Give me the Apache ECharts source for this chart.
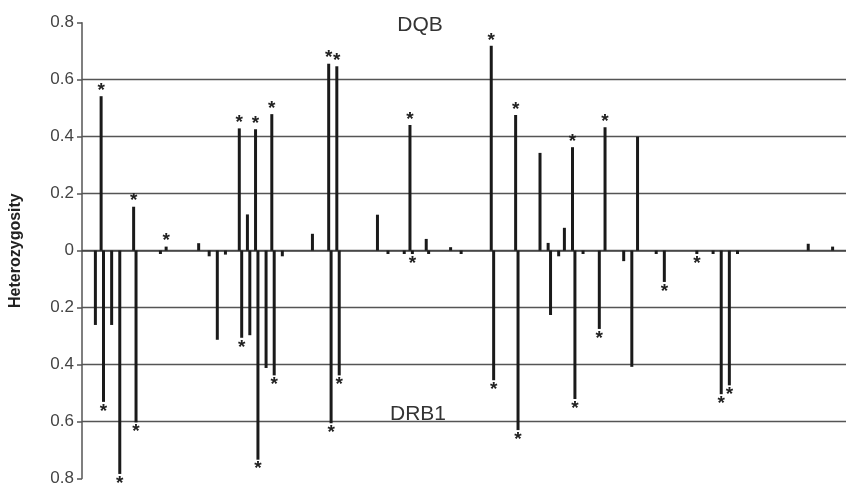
<!DOCTYPE html>
<html>
<head>
<meta charset="utf-8">
<script src="https://cdn.jsdelivr.net/npm/echarts@6/dist/echarts.min.js"></script>
<style>
html,body{margin:0;padding:0;background:#fff;}
#chart{width:846px;height:487px;}
</style>
</head>
<body>
<div id="chart"></div>
<script>
// 94 marker positions (unlabelled categories)
var categories = [];
for (var i = 1; i <= 94; i++) categories.push('M' + i);

// DQB heterozygosity (drawn upward), null = no bar
var dqb = [
  null, null, 0.542, null, null, null, 0.154, null, null, null,
  0.014, null, null, null, 0.026, null, null, null, null, 0.429,
  0.127, 0.426, null, 0.479, null, null, null, null, 0.059, null,
  0.656, 0.647, null, null, null, null, 0.126, null, null, null,
  0.441, null, 0.041, null, null, 0.012, null, null, null, null,
  0.719, null, null, 0.476, null, null, 0.343, 0.027, null, 0.080,
  0.363, null, null, null, 0.433, null, null, null, 0.400, null,
  null, null, null, null, null, null, null, null, null, null,
  null, null, null, null, null, null, null, null, null, 0.024,
  null, null, 0.014, null
];

// DRB1 heterozygosity (drawn downward), null = no bar
var drb1 = [
  null, 0.261, 0.531, 0.261, 0.784, null, 0.603, null, null, 0.012,
  null, null, null, null, null, 0.020, 0.313, 0.014, null, 0.306,
  0.297, 0.734, 0.412, 0.438, 0.020, null, null, null, null, null,
  0.606, 0.438, null, null, null, null, null, 0.012, null, 0.012,
  0.012, null, 0.012, null, null, null, 0.012, null, null, null,
  0.455, null, null, 0.630, null, null, null, 0.226, 0.020, null,
  0.521, 0.012, null, 0.275, null, null, 0.037, 0.408, null, null,
  0.012, 0.110, null, null, null, 0.012, null, 0.012, 0.504, 0.473,
  0.012, null, null, null, null, null, null, null, null, null,
  null, null, null, null
];

// indices of markers flagged with an asterisk
var dqbSig = [2, 6, 10, 19, 21, 23, 30, 31, 40, 50, 53, 60, 64];
var drb1Sig = [2, 4, 6, 19, 21, 23, 30, 31, 40, 50, 53, 60, 63, 71, 75, 78, 79];

var yTicks = [-0.8, -0.6, -0.4, -0.2, 0, 0.2, 0.4, 0.6, 0.8];

var starLabel = {
  show: true,
  formatter: '*',
  fontFamily: 'Liberation Sans, Arial, sans-serif',
  fontSize: 19,
  fontWeight: 'bold',
  color: '#222'
};

function buildData(values, sig, sign, pos, dist) {
  return values.map(function (v, i) {
    if (v === null) return null;
    var item = { value: sign * v };
    if (sig.indexOf(i) >= 0) {
      item.label = Object.assign({}, starLabel, { position: pos, distance: dist });
    }
    return item;
  });
}

var chart = echarts.init(document.getElementById('chart'));
chart.setOption({
  animation: false,
  backgroundColor: '#fff',
  grid: { left: 80, top: 22.7, width: 769, height: 458 },
  title: [
    { text: 'DQB', left: 415, top: 10, textAlign: 'center',
      textStyle: { fontFamily: 'Liberation Sans, Arial, sans-serif', fontSize: 21, fontWeight: 'normal', color: '#333' } },
    { text: 'DRB1', left: 413, top: 399, textAlign: 'center',
      textStyle: { fontFamily: 'Liberation Sans, Arial, sans-serif', fontSize: 21, fontWeight: 'normal', color: '#333' } }
  ],
  xAxis: {
    type: 'category',
    data: categories,
    axisLine: { onZero: true, lineStyle: { color: '#444', width: 1.5 } },
    axisTick: { show: false },
    axisLabel: { show: false },
    splitLine: { show: false }
  },
  yAxis: {
    type: 'value',
    min: yTicks[0],
    max: yTicks[yTicks.length - 1],
    interval: 0.2,
    name: 'Heterozygosity',
    nameLocation: 'middle',
    nameGap: 58,
    nameTextStyle: { fontFamily: 'Liberation Sans, Arial, sans-serif', fontSize: 16, fontWeight: 'bold', color: '#222' },
    axisLine: { show: true, lineStyle: { color: '#555', width: 1.5 } },
    axisTick: { show: true, length: 5, lineStyle: { color: '#555', width: 1.5 } },
    axisLabel: {
      margin: 8,
      fontFamily: 'Liberation Sans, Arial, sans-serif',
      fontSize: 17,
      color: '#444',
      formatter: function (v) {
        var a = Math.abs(Math.round(v * 10) / 10);
        return a === 0 ? '0' : a.toFixed(1);
      }
    },
    splitLine: { show: true, showMinLine: false, showMaxLine: false, lineStyle: { color: '#555', width: 1.4 } }
  },
  series: [
    {
      name: 'DQB', type: 'bar', barWidth: 3, barGap: '-20%',
      itemStyle: { color: '#1a1a1a' },
      data: buildData(dqb, dqbSig, 1, 'top', -4)
    },
    {
      name: 'DRB1', type: 'bar', barWidth: 3, barGap: '-20%',
      itemStyle: { color: '#1a1a1a' },
      data: buildData(drb1, drb1Sig, -1, 'bottom', 0)
    }
  ]
});
</script>
</body>
</html>
